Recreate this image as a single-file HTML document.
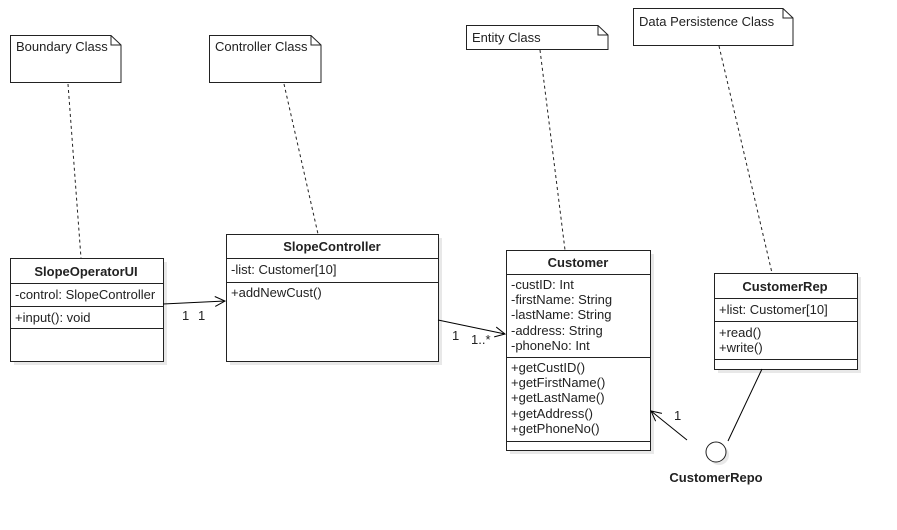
<!DOCTYPE html>
<html><head><meta charset="utf-8"><style>
html,body{margin:0;padding:0;background:#fff;}
svg{display:block;font-family:"Liberation Sans",Arial,sans-serif;font-size:13px;}
</style></head><body>
<svg width="897" height="530" viewBox="0 0 897 530" xmlns="http://www.w3.org/2000/svg">
<defs><marker id="a" markerWidth="12" markerHeight="12" refX="11" refY="6" orient="auto" markerUnits="userSpaceOnUse"><path d="M1,1 L11,6 L1,11" fill="none" stroke="#000" stroke-width="1"/></marker></defs>
<g fill="#e8e8e8">
<rect x="14" y="262" width="153" height="103"/>
<rect x="230" y="238" width="212" height="127"/>
<rect x="510" y="254" width="144" height="200"/>
<rect x="718" y="277" width="143" height="96"/>
<circle cx="719" cy="455" r="10"/>
</g>
<g fill="#fff" stroke="#222" stroke-width="1">
<path d="M10.5,35.5 H111 L121,45 V82.5 H10.5 Z"/><path d="M111,35.5 V45 H121" fill="none"/>
<path d="M209.5,35.5 H311 L321,45 V82.5 H209.5 Z"/><path d="M311,35.5 V45 H321" fill="none"/>
<path d="M466.5,25.5 H598 L608,35 V49.5 H466.5 Z"/><path d="M598,25.5 V35 H608" fill="none"/>
<path d="M633.5,8.5 H783 L793,18 V45.5 H633.5 Z"/><path d="M783,8.5 V18 H793" fill="none"/>
<rect x="10.5" y="258.5" width="153" height="103"/>
<rect x="226.5" y="234.5" width="212" height="127"/>
<rect x="506.5" y="250.5" width="144" height="200"/>
<rect x="714.5" y="273.5" width="143" height="96"/>
<circle cx="716" cy="452" r="10"/>
</g>
<g stroke="#222" stroke-width="1">
<line x1="10" y1="283.5" x2="163" y2="283.5"/><line x1="10" y1="306.5" x2="163" y2="306.5"/><line x1="10" y1="328.5" x2="163" y2="328.5"/>
<line x1="226" y1="258.5" x2="438" y2="258.5"/><line x1="226" y1="282.5" x2="438" y2="282.5"/>
<line x1="506" y1="274.5" x2="650" y2="274.5"/><line x1="506" y1="357.5" x2="650" y2="357.5"/><line x1="506" y1="441.5" x2="650" y2="441.5"/>
<line x1="714" y1="298.5" x2="857" y2="298.5"/><line x1="714" y1="321.5" x2="857" y2="321.5"/><line x1="714" y1="359.5" x2="857" y2="359.5"/>
</g>
<g stroke="#222" stroke-width="1" stroke-dasharray="3,3">
<line x1="68" y1="84" x2="81" y2="258"/>
<line x1="284" y1="84" x2="318" y2="234"/>
<line x1="540" y1="50" x2="565" y2="250"/>
<line x1="719" y1="46" x2="772" y2="273"/>
</g>
<g stroke="#000" stroke-width="1" fill="none">
<line x1="163" y1="304" x2="225" y2="301" marker-end="url(#a)"/>
<line x1="438" y1="320" x2="505" y2="334" marker-end="url(#a)"/>
<line x1="687" y1="440" x2="651" y2="411" marker-end="url(#a)"/>
<line x1="728" y1="441" x2="762" y2="369"/>
</g>
<g fill="#222">
<text x="16" y="51">Boundary Class</text>
<text x="215" y="51">Controller Class</text>
<text x="472" y="42">Entity Class</text>
<text x="639" y="26">Data Persistence Class</text>
<text x="86" y="276" font-weight="bold" text-anchor="middle">SlopeOperatorUI</text>
<text x="15" y="299">-control: SlopeController</text>
<text x="15" y="322">+input(): void</text>
<text x="332" y="251" font-weight="bold" text-anchor="middle">SlopeController</text>
<text x="231" y="274">-list: Customer[10]</text>
<text x="231" y="297">+addNewCust()</text>
<text x="578" y="267" font-weight="bold" text-anchor="middle">Customer</text>
<text x="511" y="289">-custID: Int</text>
<text x="511" y="304">-firstName: String</text>
<text x="511" y="319">-lastName: String</text>
<text x="511" y="335">-address: String</text>
<text x="511" y="350">-phoneNo: Int</text>
<text x="511" y="372">+getCustID()</text>
<text x="511" y="387">+getFirstName()</text>
<text x="511" y="402">+getLastName()</text>
<text x="511" y="418">+getAddress()</text>
<text x="511" y="433">+getPhoneNo()</text>
<text x="785" y="291" font-weight="bold" text-anchor="middle">CustomerRep</text>
<text x="719" y="314">+list: Customer[10]</text>
<text x="719" y="337">+read()</text>
<text x="719" y="352">+write()</text>
<text x="716" y="482" font-weight="bold" text-anchor="middle">CustomerRepo</text>
<text x="182" y="320">1</text><text x="198" y="320">1</text>
<text x="452" y="340">1</text><text x="471" y="344">1..*</text>
<text x="674" y="420">1</text>
</g>
</svg>
</body></html>
